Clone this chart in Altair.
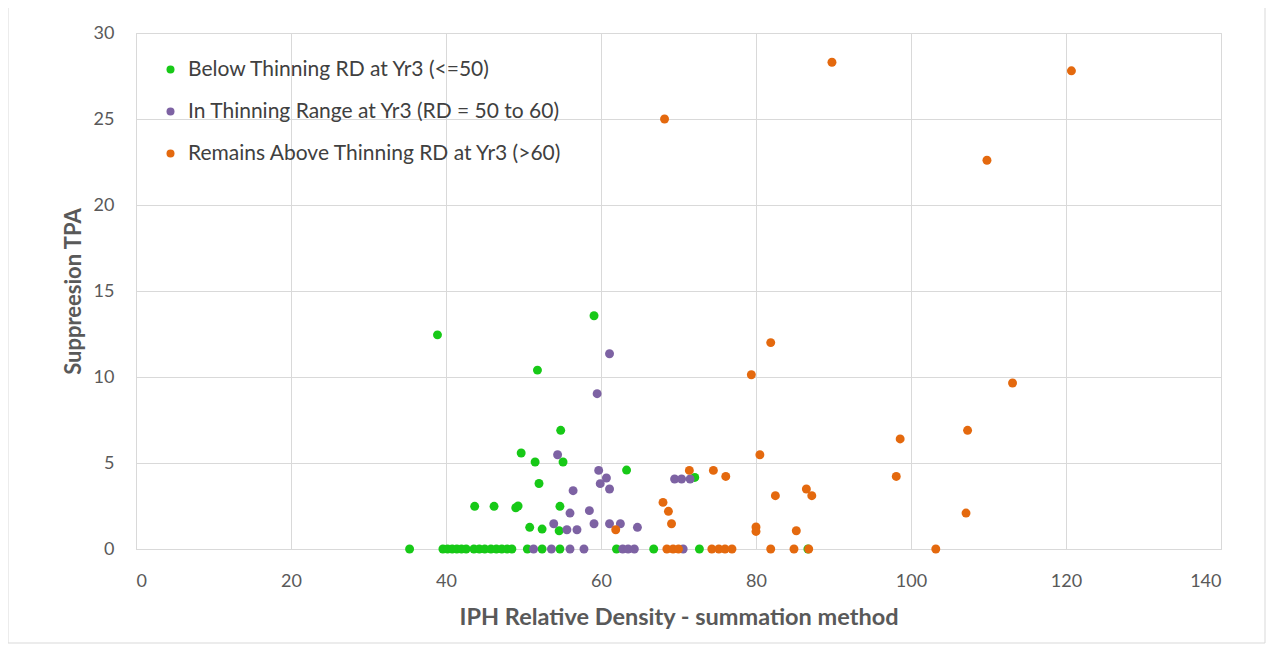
import altair as alt
import pandas as pd

# ---- data ----
green_x = [38.9, 59.1, 51.8, 54.8, 49.7, 51.5, 55.1, 52.0, 63.3, 43.7, 46.2, 49.0, 49.3, 54.7,
           50.8, 52.4, 54.6, 72.1,
           35.3, 39.6, 40.2, 40.8, 41.4, 42.0, 42.6, 43.6, 44.3, 45.0, 45.8, 46.5, 47.2, 47.9,
           48.5, 50.5, 52.4, 54.7, 62.0, 66.8, 72.7, 86.7]
green_y = [12.45, 13.56, 10.4, 6.9, 5.58, 5.06, 5.06, 3.81, 4.59, 2.48, 2.48, 2.4, 2.5, 2.48,
           1.26, 1.16, 1.06, 4.16,
           0, 0, 0, 0, 0, 0, 0, 0, 0, 0, 0, 0, 0, 0,
           0, 0, 0, 0, 0, 0, 0, 0]

purple_x = [61.1, 59.5, 54.4, 59.7, 60.7, 59.9, 61.1, 56.4, 69.5, 70.4, 71.5, 56.0, 58.5, 53.9,
            55.6, 56.9, 59.1, 61.1, 62.5, 64.7,
            51.3, 53.6, 56.0, 57.8, 62.8, 63.5, 64.3, 70.6]
purple_y = [11.35, 9.03, 5.48, 4.57, 4.13, 3.8, 3.49, 3.39, 4.07, 4.07, 4.07, 2.09, 2.23, 1.47,
            1.12, 1.12, 1.47, 1.47, 1.47, 1.26,
            0, 0, 0, 0, 0, 0, 0, 0]

orange_x = [68.2, 89.8, 120.7, 109.8, 81.9, 79.4, 113.1, 98.6, 107.3, 80.5, 71.4, 74.5, 76.1,
            98.1, 82.5, 86.5, 87.2, 68.0, 68.7, 69.1, 80.0, 80.0, 85.2, 107.1, 61.9,
            68.5, 69.3, 70.0, 74.3, 75.2, 76.0, 76.9, 81.9, 84.9, 86.8, 103.2]
orange_y = [25.0, 28.3, 27.8, 22.6, 12.0, 10.13, 9.65, 6.4, 6.9, 5.48, 4.57, 4.57, 4.22,
            4.22, 3.1, 3.49, 3.1, 2.71, 2.19, 1.47, 1.28, 1.02, 1.06, 2.09, 1.12,
            0, 0, 0, 0, 0, 0, 0, 0, 0, 0, 0]

series = ["Below Thinning RD at Yr3 (<=50)",
          "In Thinning Range at Yr3 (RD = 50 to 60)",
          "Remains Above Thinning RD at Yr3 (>60)"]
colors = ["#17C917", "#7D62A3", "#E4690E"]

rows = []
for name, xs, ys in zip(series, [green_x, purple_x, orange_x], [green_y, purple_y, orange_y]):
    for x, y in zip(xs, ys):
        rows.append({"x": x, "y": y, "series": name})
df = pd.DataFrame(rows)

W, H = 1085, 516
FONT = "Lato"
GREY = "#595959"

points = alt.Chart(df).mark_circle(size=80, opacity=1).encode(
    x=alt.X("x:Q", title="IPH Relative Density - summation method",
            scale=alt.Scale(domain=[0, 140], nice=False),
            axis=alt.Axis(values=[0, 20, 40, 60, 80, 100, 120, 140], tickSize=0,
                          labelPadding=23, titlePadding=15, titleFontSize=23.5)),
    y=alt.Y("y:Q", title="Suppreesion TPA",
            scale=alt.Scale(domain=[0, 30], nice=False),
            axis=alt.Axis(values=[0, 5, 10, 15, 20, 25, 30], tickSize=0,
                          labelPadding=22, titlePadding=8, titleFontSize=22)),
    color=alt.Color("series:N", scale=alt.Scale(domain=series, range=colors),
                    legend=alt.Legend(title=None, orient="none", legendX=24, legendY=26,
                                      symbolType="circle", symbolSize=64,
                                      labelFontSize=21, labelFont=FONT, labelColor="#404040",
                                      labelLimit=700, rowPadding=20, labelOffset=7)),
    order=alt.Order("series:N"),
)

frame = alt.Chart(pd.DataFrame({"a": [0]})).mark_rect(
    fill=None, stroke="#D9D9D9", strokeWidth=1
).encode(
    x=alt.value(-128), x2=alt.value(W + 44),
    y=alt.value(-27), y2=alt.value(H + 94),
)

chart = alt.layer(frame, points).properties(
    width=W, height=H,
    background="white",
    autosize=alt.AutoSizeParams(type="none"),
    padding={"left": 128, "top": 25, "right": 46, "bottom": 96},
).configure_axis(
    labelFont=FONT, titleFont=FONT, labelFontSize=18,
    labelColor=GREY, titleColor=GREY, titleFontWeight="bold",
    gridColor="#D9D9D9", domainColor="#D9D9D9", domain=True,
).configure_view(
    stroke="#D9D9D9"
)

chart.save("out.html", embed_options={"renderer": "svg", "actions": False})
